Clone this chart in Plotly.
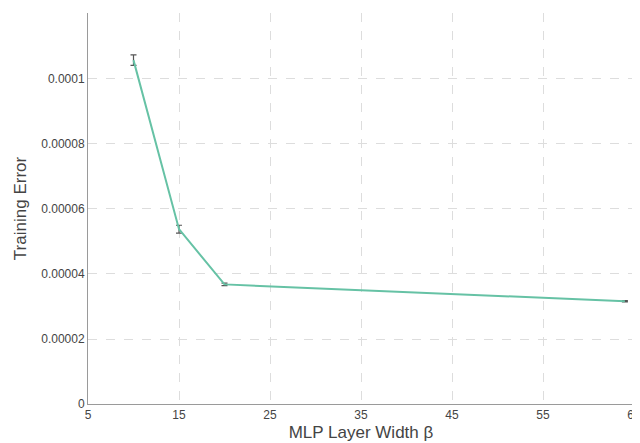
import plotly.graph_objects as go

# dados
larguras = [10, 15, 20, 64]
erro_treino = [0.0001058, 0.0000538, 0.0000368, 0.0000316]
desvio = [0.0000016, 0.0000012, 0.0000004, 0.0000002]

fig = go.Figure()
fig.add_trace(go.Scatter(
    x=larguras,
    y=erro_treino,
    mode='lines',
    line=dict(color='#66c2a5', width=2),
    error_y=dict(type='data', array=desvio, color='#555555', thickness=1.2, width=3),
    showlegend=False,
))

eixo = dict(
    showline=True, linecolor='#9a9a9a', linewidth=1,
    showgrid=True, gridcolor='#dddddd', griddash='dash', gridwidth=1,
    zeroline=False, ticks='', tickfont=dict(size=12, color='#444444'),
)

fig.update_layout(
    width=640, height=443,
    margin=dict(l=80, r=14, t=5, b=47),
    plot_bgcolor='white', paper_bgcolor='white',
    font=dict(family='Liberation Sans, Arial', color='#444444'),
    xaxis=dict(eixo, range=[5, 65], tickvals=[5, 15, 25, 35, 45, 55, 65],
               title=dict(text='MLP Layer Width β', font=dict(size=17), standoff=4)),
    yaxis=dict(eixo, range=[0, 0.0001203],
               tickvals=[0, 0.00002, 0.00004, 0.00006, 0.00008, 0.0001, 0.00012],
               ticktext=['0', '0.00002', '0.00004', '0.00006', '0.00008', '0.0001', '0.00012'],
               title=dict(text='Training Error', font=dict(size=17), standoff=10)),
)

fig.write_html("out.html")
